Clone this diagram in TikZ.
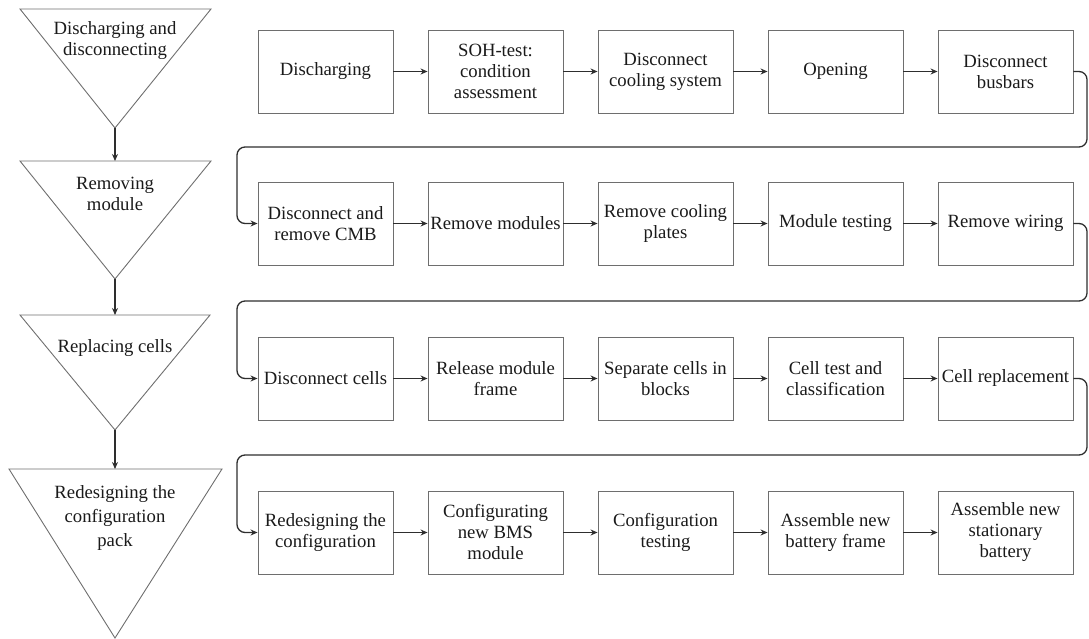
\documentclass[tikz,border=0pt]{standalone}
\usepackage{fontspec}
\setmainfont{Liberation Serif}
\newfontfamily\diagfont{Liberation Serif}
\usetikzlibrary{arrows.meta}
\definecolor{boxgray}{HTML}{6E6E6E}
\definecolor{linegray}{HTML}{2E2E2E}
\definecolor{txt}{HTML}{1A1A1A}
\begin{document}
\begin{tikzpicture}[x=1pt,y=-1pt,
  stepbox/.style={draw=boxgray, line width=0.9pt, minimum width=135pt, minimum height=83pt,
    align=center, inner sep=0pt, text=txt, font=\diagfont\fontsize{18.7}{21}\selectfont},
  flow/.style={draw=linegray, line width=1.3pt, -{Stealth[length=7pt,width=6pt]}},
  wrap/.style={flow, rounded corners=8pt},
  tri/.style={draw=boxgray, line width=0.9pt},
  trilabel/.style={align=center, inner sep=0pt, text=txt, font=\diagfont\fontsize{18.7}{21}\selectfont}]
\useasboundingbox (0,0) rectangle (1089,639);

% ---- left phase triangles ----
\coordinate (t1top) at (115,9);   \coordinate (t1apex) at (115,128);
\coordinate (t2top) at (115,161); \coordinate (t2apex) at (115,279);
\coordinate (t3top) at (115,315); \coordinate (t3apex) at (115,430);
\coordinate (t4top) at (115,469); \coordinate (t4apex) at (115,638);
\draw[tri] (20,9) -- (211,9) -- (t1apex) -- cycle;
\draw[tri] (20,161) -- (211,161) -- (t2apex) -- cycle;
\draw[tri] (20,315) -- (210,315) -- (t3apex) -- cycle;
\draw[tri] (9,469) -- (222,469) -- (t4apex) -- cycle;
\node[trilabel] (p1) at (115,41) {Discharging and\\disconnecting};
\node[trilabel] (p2) at (115,194) {Removing\\module};
\node[trilabel] (p3) at (115,348) {Replacing cells};
\node[trilabel, font=\diagfont\fontsize{18.7}{24}\selectfont] (p4) at (115,518) {Redesigning the\\configuration\\pack};
\draw[flow] (t1apex) -- (t2top);
\draw[flow] (t2apex) -- (t3top);
\draw[flow] (t3apex) -- (t4top);

% ---- row 1 ----
\node[stepbox] (a1) at (325.5,71.5) {Discharging};
\node[stepbox] (a2) at (495.5,71.5) {SOH-test:\\condition\\assessment};
\node[stepbox] (a3) at (665.5,71.5) {Disconnect\\cooling system};
\node[stepbox] (a4) at (835.5,71.5) {Opening};
\node[stepbox] (a5) at (1005.5,71.5) {Disconnect\\busbars};
% ---- row 2 ----
\node[stepbox] (b1) at (325.5,223.5) {Disconnect and\\remove CMB};
\node[stepbox] (b2) at (495.5,223.5) {Remove modules};
\node[stepbox] (b3) at (665.5,223.5) {Remove cooling\\plates};
\node[stepbox] (b4) at (835.5,223.5) {Module testing};
\node[stepbox] (b5) at (1005.5,223.5) {Remove wiring};
% ---- row 3 ----
\node[stepbox] (c1) at (325.5,378.5) {Disconnect cells};
\node[stepbox] (c2) at (495.5,378.5) {Release module\\frame};
\node[stepbox] (c3) at (665.5,378.5) {Separate cells in\\blocks};
\node[stepbox] (c4) at (835.5,378.5) {Cell test and\\classification};
\node[stepbox] (c5) at (1005.5,378.5) {Cell replacement};
% ---- row 4 ----
\node[stepbox] (d1) at (325.5,532.5) {Redesigning the\\configuration};
\node[stepbox] (d2) at (495.5,532.5) {Configurating\\new BMS\\module};
\node[stepbox] (d3) at (665.5,532.5) {Configuration\\testing};
\node[stepbox] (d4) at (835.5,532.5) {Assemble new\\battery frame};
\node[stepbox] (d5) at (1005.5,532.5) {Assemble new\\stationary\\battery};

\foreach \r in {a,b,c,d}{
  \draw[flow] (\r1) -- (\r2);
  \draw[flow] (\r2) -- (\r3);
  \draw[flow] (\r3) -- (\r4);
  \draw[flow] (\r4) -- (\r5);
}

% ---- wrap-around connectors ----
\coordinate (r1) at (1087,147); \coordinate (l1) at (237,147);
\coordinate (r2) at (1087,301); \coordinate (l2) at (237,301);
\coordinate (r3) at (1087,455); \coordinate (l3) at (237,455);
\draw[wrap] (a5.east) -| (r1) -- (l1) |- (b1.west);
\draw[wrap] (b5.east) -| (r2) -- (l2) |- (c1.west);
\draw[wrap] (c5.east) -| (r3) -- (l3) |- (d1.west);
\end{tikzpicture}
\end{document}
